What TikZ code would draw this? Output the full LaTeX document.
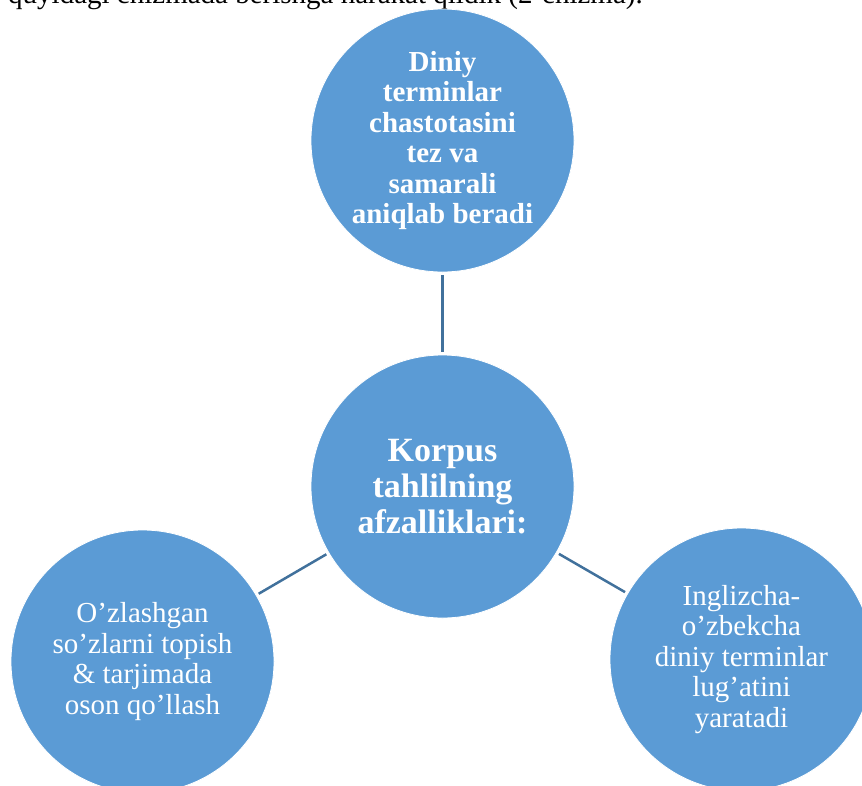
\documentclass[tikz,border=0pt]{standalone}
\usepackage{fontspec}
\setmainfont{Liberation Serif}
\definecolor{bubble}{HTML}{5B9BD5}
\definecolor{linkc}{HTML}{41719C}
\begin{document}
\begin{tikzpicture}[x=1pt,y=-1pt,
  bubble/.style={circle,fill=bubble,draw=white,line width=0.8pt,minimum size=263pt,inner sep=0pt,outer sep=0pt,text=white,align=center},
  small/.style={font=\fontsize{29}{30.5}\selectfont},
  smallb/.style={font=\fontsize{29}{30.5}\selectfont\bfseries},
  big/.style={font=\fontsize{34}{36.3}\selectfont\bfseries},
  link/.style={draw=linkc,line width=2.5pt,shorten <=3pt,shorten >=3pt}]
\useasboundingbox (0,0) rectangle (862,785);
\clip (0,0) rectangle (862,785);
\node[anchor=base west,inner sep=0pt,font=\fontsize{29}{30.5}\selectfont] (intro) at (8,3.5) {quyidagi chizmada berishga harakat qildik (2-chizma).};
\node[bubble,smallb] (top) at (442.5,140.5) {Diniy\\terminlar\\chastotasini\\tez va\\samarali\\aniqlab beradi};
\node[bubble,big] (mid) at (442.5,486.5) {Korpus\\tahlilning\\afzalliklari:};
\node[bubble,small] (left) at (142.5,661.5) {O’zlashgan\\so’zlarni topish\\\& tarjimada\\oson qo’llash};
\node[bubble,small] (right) at (741.5,659.5) {Inglizcha-\\o’zbekcha\\diniy terminlar\\lug’atini\\yaratadi};
\draw[link] (top) -- (mid);
\draw[link] (mid) -- (left);
\draw[link] (mid) -- (right);
\end{tikzpicture}
\end{document}
